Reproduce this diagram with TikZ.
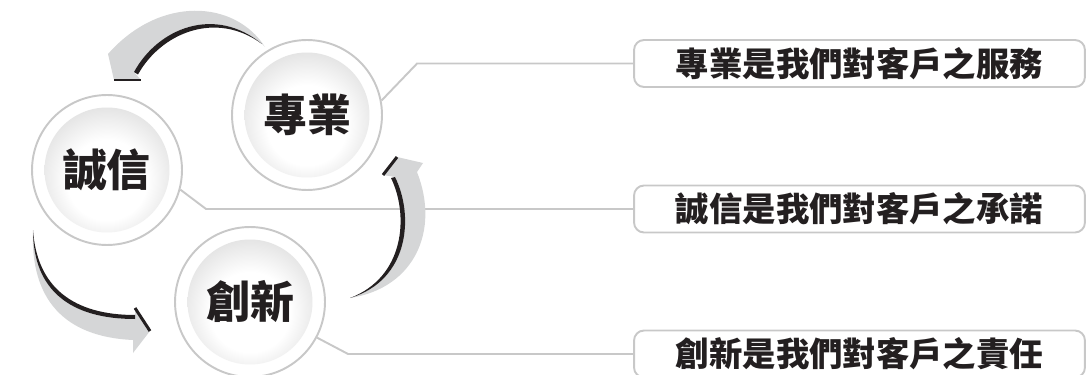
\documentclass[tikz,border=0pt]{standalone}
\usepackage{fontspec}
\newfontfamily\cjk{Noto Sans CJK TC}
\usepackage{tikz}
\definecolor{ink}{HTML}{231F20}
\definecolor{rim}{HTML}{C8C8C8}
\definecolor{band}{HTML}{D5D6D7}
\definecolor{discedge}{HTML}{B2B2B2}
\pgfdeclareradialshading{discshade}{\pgfpoint{0bp}{-6bp}}{color(0bp)=(white); color(16bp)=(white); color(50bp)=(discedge)}
\tikzset{
  ring/.style={circle, draw=rim, line width=1.1pt, fill=white, minimum size=3cm, inner sep=0pt},
  disc/.style={circle, shade, shading=discshade, minimum size=2.5cm, inner sep=0pt, text=ink, font=\cjk\bfseries\fontsize{25}{30}\selectfont},
  box/.style={draw=rim, line width=1.1pt, fill=white, rounded corners=0.2cm, minimum width=9.02cm, minimum height=0.94cm, inner sep=0pt, text=ink, font=\cjk\bfseries\fontsize{19}{23}\selectfont},
  link/.style={draw=rim, line width=1.1pt},
  swoosh/.style={fill=band},
  rimdark/.style={fill=ink},
  tipedge/.style={draw=ink, line width=1.7pt},
}
\begin{document}
\begin{tikzpicture}[x=0.02cm,y=-0.02cm]
  \useasboundingbox (0,0) rectangle (1086,375);
  \node[box] (b1) at (859.5,63.5) {專業是我們對客戶之服務};
  \node[box] (b2) at (859.5,209) {誠信是我們對客戶之承諾};
  \node[box] (b3) at (859.5,354) {創新是我們對客戶之責任};
  \foreach \name/\pos/\txt in {zy/{307,115}/專業, cx/{107,170}/誠信, cn/{250,302}/創新}{
    \node[ring] (\name-ring) at (\pos) {};
    \node[disc] (\name) at (\pos) {\txt};
  }
  \draw[link] (b1.west) -- ++(-216,0) -- (zy-ring.11);
  \draw[link] (b2.west) -- ++(-427,0) -- (cx-ring.-15);
  \draw[link] (b3.west) -- ++(-285,0) -- (cn-ring.-28);
  \fill[swoosh] (265,47) .. controls (235,0) and (160,-5) .. (108,54) -- (114,80) -- (141,80) -- (134,72) .. controls (158,28) and (215,5) .. (262,44) -- cycle;
  \fill[rimdark] (134,72) .. controls (158,28) and (215,5) .. (262,44) .. controls (216,10) and (161,33) .. (138,74.5) -- cycle;
  \draw[tipedge] (114,80) -- (141,80);
  \fill[swoosh] (33,230) .. controls (30,300) and (65,337) .. (133,340) -- (133,353) -- (150,331) -- (135,308) -- (135,319) .. controls (70,319) and (33,290) .. (33,230) -- cycle;
  \fill[rimdark] (33,230) .. controls (33,290) and (70,319) .. (135,319) -- (135,315) .. controls (74,315) and (37,288) .. (33,230) -- cycle;
  \draw[tipedge] (135,308) -- (150,331);
  \fill[swoosh] (350,298) .. controls (415,288) and (440,230) .. (417,172) -- (423,163) -- (397,157) -- (383,175) -- (395,177) .. controls (414,215) and (410,280) .. (350,298) -- cycle;
  \fill[rimdark] (395,177) .. controls (414,215) and (410,280) .. (350,298) .. controls (405,277) and (409,215) .. (391,178) -- cycle;
  \draw[tipedge] (383,175) -- (397,157);
\end{tikzpicture}
\end{document}
